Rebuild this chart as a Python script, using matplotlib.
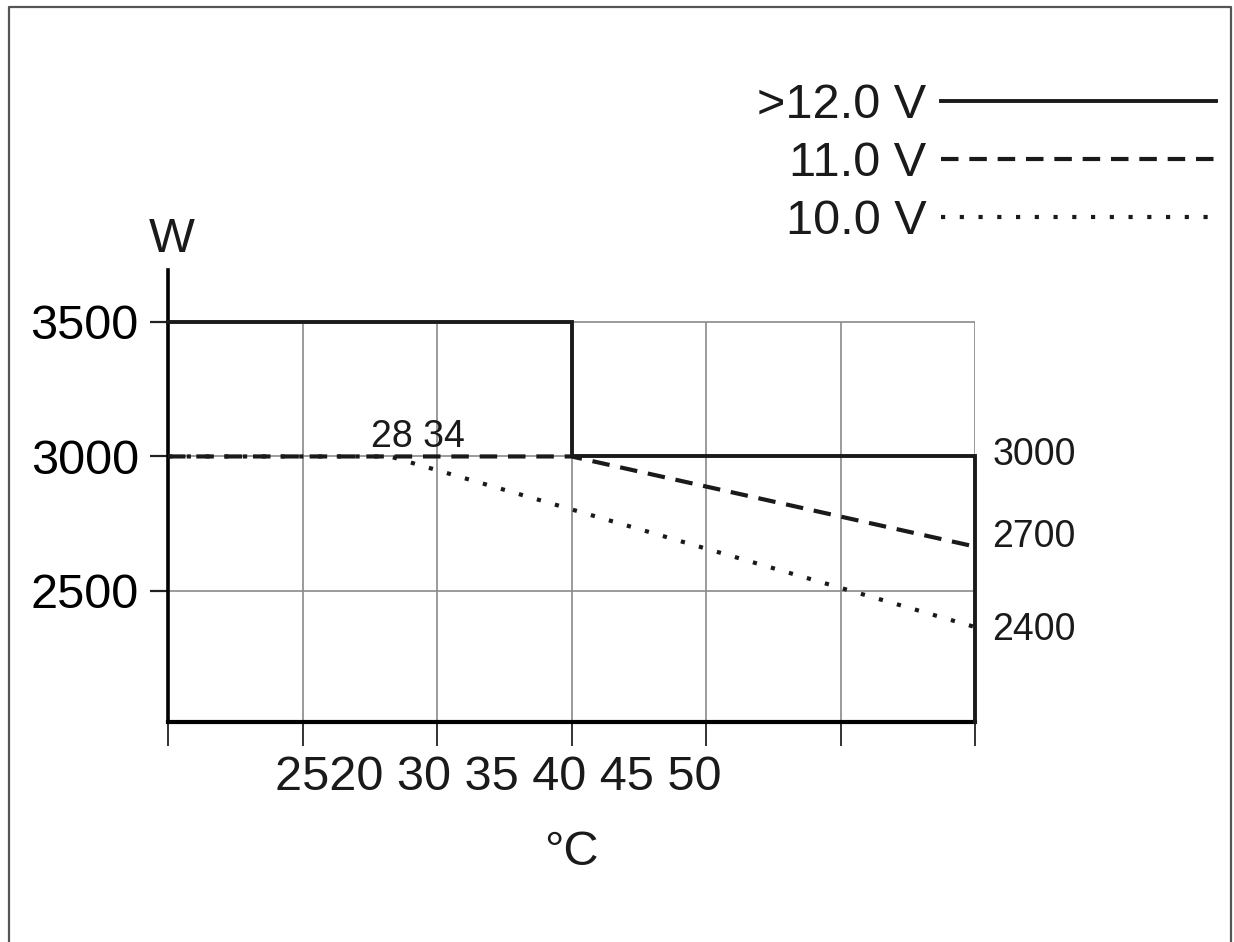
import matplotlib
matplotlib.use("Agg")
import matplotlib.pyplot as plt
from matplotlib.lines import Line2D

plt.rcParams['font.family'] = ['Liberation Sans', 'DejaVu Sans']

# ---- data ----
grid_x = [0, 1, 2, 3, 4, 5, 6]            # temperature grid positions
y_ticks = [2500, 3000, 3500]
y_tick_labels = ["2500", "3000", "3500"]
x_tick_labels = ["2520", "30", "35", "40", "45", "50"]
y_min = 2013
y_top = 3693

series_labels = [">12.0 V", "11.0 V", "10.0 V"]
s12_x = [0, 3, 3, 6, 6]
s12_y = [3500, 3500, 3000, 3000, y_min]
s11_x = [0, 3, 6]
s11_y = [3000, 3000, 2665]
s10_x = [0, 1.65, 6]
s10_y = [3000, 3000, 2366]

end_labels = ["3000", "2700", "2400"]
end_label_y = [3006, 2701, 2355]
knee_label = "28 34"

# ---- figure ----
W, H = 1234, 942
fig = plt.figure(figsize=(W / 100, H / 100), dpi=100)
fig.patch.set_facecolor('white')

# outer frame (left, top, right)
fig.add_artist(Line2D([9 / W, 9 / W, 1231 / W, 1231 / W],
                      [0, 1 - 7 / H, 1 - 7 / H, 0],
                      transform=fig.transFigure, color='#555555', lw=1.6))

ax = fig.add_axes([168 / W, (H - 722) / H, (975 - 168) / W, (722 - 270) / H])
ax.set_xlim(0, 6)
ax.set_ylim(y_min, y_top)
ax.patch.set_alpha(0)

for s in ['top', 'right']:
    ax.spines[s].set_visible(False)
ax.spines['left'].set_linewidth(2.6)
ax.spines['bottom'].set_linewidth(3.0)

ax.set_xticks(grid_x)
ax.set_xticklabels([])
ax.tick_params(axis='x', direction='out', length=17, width=1.3, color='#222222')
ax.set_yticks(y_ticks)
ax.set_yticklabels(y_tick_labels, fontsize=35)
ax.tick_params(axis='y', direction='out', length=13, width=1.6, pad=8, color='#222222')

# grid
grid_col = '#8a8a8a'
ax.vlines(grid_x[1:], y_min, 3500, color=grid_col, lw=1.2, zorder=1)
ax.hlines(y_ticks, 0, 6, color=grid_col, lw=1.2, zorder=1)

# series
l12, = ax.plot(s12_x, s12_y, color='#1a1a1a', lw=2.8, solid_joinstyle='miter',
               clip_on=False, zorder=4, label=series_labels[0])
l11, = ax.plot(s11_x, s11_y, color='#1a1a1a', lw=3.0, linestyle=(0, (4.2, 2.6)),
               clip_on=False, zorder=3, label=series_labels[1])
l10, = ax.plot(s10_x, s10_y, color='#1a1a1a', lw=3.0, linestyle=(0, (1.0, 3.5)),
               clip_on=False, zorder=3, label=series_labels[2])

# texts
ax.text(0.796, 1760, " ".join(x_tick_labels), fontsize=35, ha='left', va='baseline',
        color='#1a1a1a', clip_on=False)
ax.text(3.0, 1481, "°C", fontsize=35, ha='center', va='baseline', color='#1a1a1a',
        clip_on=False)
ax.text(0.03, 3760, "W", fontsize=35, ha='center', va='baseline', color='#1a1a1a',
        clip_on=False)
ax.text(1.86, 3035, knee_label, fontsize=27, ha='center', va='baseline', color='#1a1a1a',
        clip_on=False)
for lab, yv in zip(end_labels, end_label_y):
    ax.text(6.13, yv, lab, fontsize=27, ha='left', va='center', color='#1a1a1a',
            clip_on=False)

leg = ax.legend(handles=[l12, l11, l10], loc='upper right',
                bbox_to_anchor=(1216 / W, 1 - 83 / H), bbox_transform=fig.transFigure,
                frameon=False, markerfirst=False, fontsize=35, handlelength=5.66,
                handletextpad=0.3, labelspacing=0.27, borderpad=0, borderaxespad=0)
for t in leg.get_texts():
    t.set_color('#1a1a1a')

fig.savefig("out.png", dpi=100)
